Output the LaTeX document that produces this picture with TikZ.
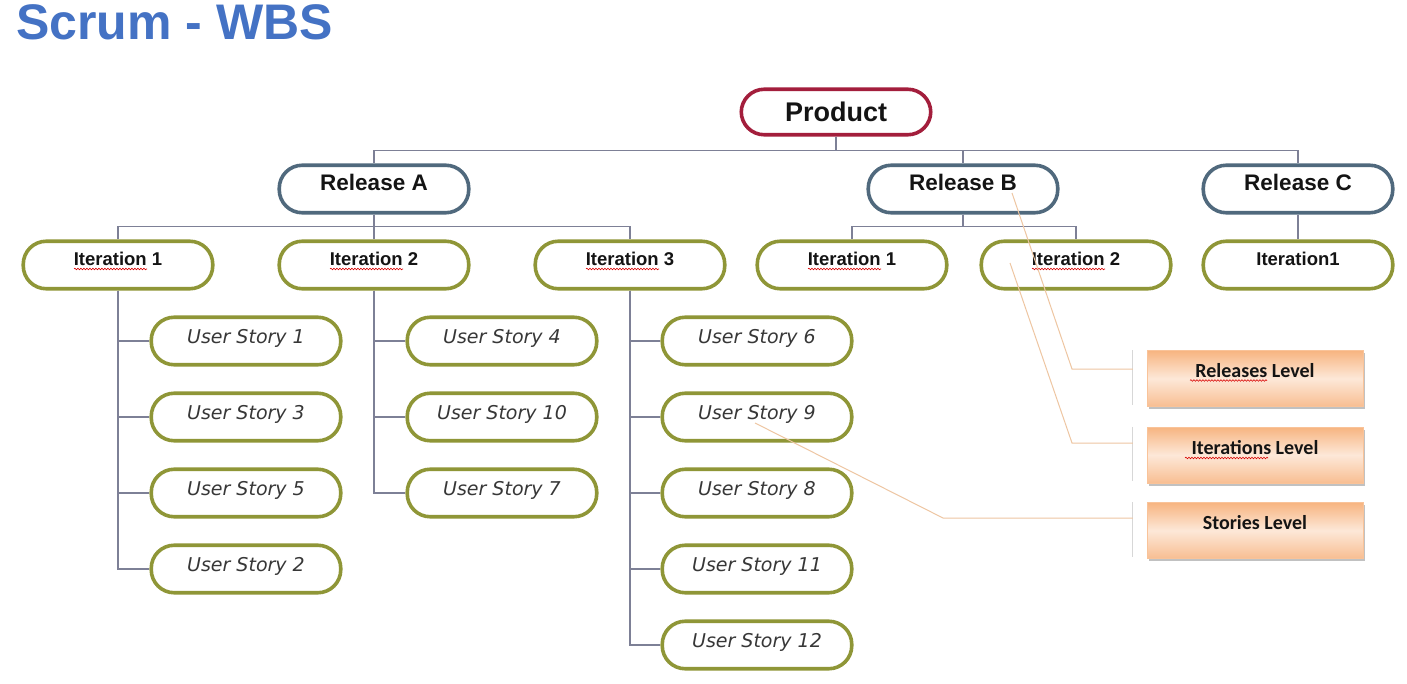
\documentclass[tikz,border=0pt]{standalone}
\usepackage{fontspec}
\setmainfont{Liberation Sans}
\newfontfamily\storyfont{DejaVu Sans}
\newfontfamily\legfont{Carlito}
\usetikzlibrary{calc,shadows,decorations.pathmorphing}
\definecolor{prodc}{RGB}{163,30,60}
\definecolor{relc}{RGB}{80,105,125}
\definecolor{itc}{RGB}{143,150,55}
\definecolor{connc}{RGB}{125,128,150}
\definecolor{leadc}{RGB}{238,198,162}
\definecolor{titlec}{RGB}{68,114,196}
\definecolor{txt}{RGB}{20,20,20}
\definecolor{storytxt}{RGB}{55,55,55}
\definecolor{legtop}{RGB}{247,180,128}
\definecolor{legmid}{RGB}{253,232,216}
\definecolor{legbot}{RGB}{248,190,146}
\definecolor{brack}{RGB}{215,215,215}
\begin{document}
\begin{tikzpicture}[x=1pt,y=-1pt,
 box/.style={draw, line width=3.6pt, rounded corners=23pt, minimum width=189.5pt, minimum height=47.5pt, inner sep=0pt, fill=white, text=txt},
 prodbox/.style={box, draw=prodc, minimum height=45.5pt, font=\bfseries\fontsize{27}{30}\selectfont, text height=20pt, text depth=0pt},
 relbox/.style={box, draw=relc, font=\bfseries\fontsize{22.5}{25}\selectfont, text height=16pt, text depth=12pt},
 itbox/.style={box, draw=itc, font=\bfseries\fontsize{18.5}{21}\selectfont, text height=13pt, text depth=12pt},
 storybox/.style={box, draw=itc, font=\storyfont\itshape\fontsize{19}{21}\selectfont, text height=13pt, text depth=9pt, text=storytxt},
 legbox/.style={minimum width=216pt, minimum height=56pt, inner sep=0pt, top color=legtop, bottom color=legbot, middle color=legmid, draw=legtop!80!white, line width=0.5pt, drop shadow={shadow xshift=1.5pt, shadow yshift=-2.5pt, fill=black!40, opacity=0.6}, font=\legfont\bfseries\fontsize{20}{22}\selectfont, text height=13pt, text depth=15pt, text=txt},
 conn/.style={draw=connc, line width=1.4pt},
 lead/.style={draw=leadc, line width=1pt},
 brk/.style={draw=brack, line width=1.2pt},
 wavy/.style={draw=red!85!black, line width=0.6pt, decorate, decoration={snake, amplitude=0.8pt, segment length=3pt}}]
\useasboundingbox[fill=white] (0,0) rectangle (1407,684);

% title
\node[anchor=base west, inner sep=0pt, text=titlec, font=\bfseries\fontsize{50}{55}\selectfont] (title) at (16,40) {Scrum - WBS};

% nodes
\node[prodbox] (prod) at (836,112) {Product};
\node[relbox] (relA) at (374,189) {Release A};
\node[relbox] (relB) at (963,189) {Release B};
\node[relbox] (relC) at (1298,189) {Release C};

\node[itbox] (a1) at (118,265) {Iteration 1};
\node[itbox] (a2) at (374,265) {Iteration 2};
\node[itbox] (a3) at (630,265) {Iteration 3};
\node[itbox] (b1) at (852,265) {Iteration 1};
\node[itbox] (b2) at (1076,265) {Iteration 2};
\node[itbox] (c1) at (1298,265) {Iteration1};

\node[storybox] (us1) at (246,341) {User Story 1};
\node[storybox] (us3) at (246,417) {User Story 3};
\node[storybox] (us5) at (246,493) {User Story 5};
\node[storybox] (us2) at (246,569) {User Story 2};

\node[storybox] (us4) at (502,341) {User Story 4};
\node[storybox] (us10) at (502,417) {User Story 10};
\node[storybox] (us7) at (502,493) {User Story 7};

\node[storybox] (us6) at (757,341) {User Story 6};
\node[storybox] (us9) at (757,417) {User Story 9};
\node[storybox] (us8) at (757,493) {User Story 8};
\node[storybox] (us11) at (757,569) {User Story 11};
\node[storybox] (us12) at (757,645) {User Story 12};

% legend
\node[legbox] (lr) at (1255,378.5) {Releases Level};
\node[legbox] (li) at (1255,455) {Iterations Level};
\node[legbox] (ls) at (1255,530.5) {Stories Level};

% connectors
\draw[conn] (prod.south) -- ($(prod.south)+(0,14)$) -| (relA.north);
\draw[conn] (prod.south) -- ($(prod.south)+(0,14)$) -| (relB.north);
\draw[conn] (prod.south) -- ($(prod.south)+(0,14)$) -| (relC.north);

\draw[conn] (relA.south) -- ($(relA.south)+(0,12)$) -| (a1.north);
\draw[conn] (relA.south) -- (a2.north);
\draw[conn] (relA.south) -- ($(relA.south)+(0,12)$) -| (a3.north);
\draw[conn] (relB.south) -- ($(relB.south)+(0,12)$) -| (b1.north);
\draw[conn] (relB.south) -- ($(relB.south)+(0,12)$) -| (b2.north);
\draw[conn] (relC.south) -- (c1.north);

\foreach \s in {us1,us3,us5,us2} \draw[conn] (a1.south) |- (\s.west);
\foreach \s in {us4,us10,us7} \draw[conn] (a2.south) |- (\s.west);
\foreach \s in {us6,us9,us8,us11,us12} \draw[conn] (a3.south) |- (\s.west);

% spell-check underlines
\foreach \n in {a1,a2,a3,b1,b2}
  \draw[wavy] ($(\n.center)+(-44,4)$) -- ($(\n.center)+(29,4)$);
\draw[wavy] ($(lr.center)+(-65,2)$) -- ($(lr.center)+(12,2)$);
\draw[wavy] ($(li.center)+(-70,3)$) -- ($(li.center)+(13,3)$);

% brackets beside legend boxes
\foreach \n in {lr,li,ls}
  \draw[brk] ($(\n.north west)+(-14,0)$) -- ($(\n.south west)+(-14,-2)$);

% leader lines
\coordinate (pr) at (1012,193);
\coordinate (pi) at (1010,263);
\coordinate (ps) at (755,423);
\draw[lead] (pr) -- (1072,369) -- ($(lr.west)+(-14,-9.5)$);
\draw[lead] (pi) -- (1072,443) -- ($(li.west)+(-14,-12)$);
\draw[lead] (ps) -- (943,518) -- ($(ls.west)+(-14,-12.5)$);
\end{tikzpicture}
\end{document}
